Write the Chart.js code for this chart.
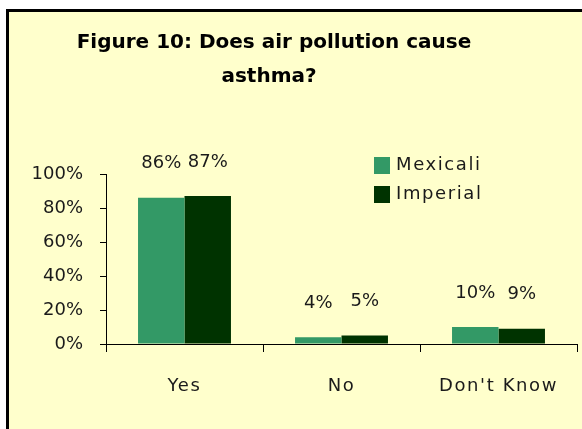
<!DOCTYPE html>
<html>
<head>
<meta charset="utf-8">
<script src="https://cdn.jsdelivr.net/npm/chart.js@4/dist/chart.umd.min.js"></script>
<style>
  html, body { margin: 0; padding: 0; background: #ffffff; }
  #wrap { width: 582px; height: 429px; }
</style>
</head>
<body>
<div id="wrap"><canvas id="chart" width="582" height="429"></canvas></div>
<script>
// Survey answers by region (share of respondents)
const categories = ["Yes", "No", "Don't Know"];
const mexicali = [0.86, 0.04, 0.10];
const imperial = [0.87, 0.05, 0.09];
const seriesNames = ["Mexicali", "Imperial"];
const seriesColors = ["#339966", "#003300"];
const titleLines = ["Figure 10: Does air pollution cause", "asthma?"];

const FONT = "'DejaVu Sans', sans-serif";
const SIZE = 18;
const TEXT = "#1a1a1a";
const PANEL = "#FFFFCC";
const WORD_SPACING = "1.6px";   // airy tracking for word labels
const NUM_SPACING = "0px";      // numbers keep normal tracking

const pct = v => Math.round(v * 100) + "%";

// Framed panel background with heavy left/top rule
const panelPlugin = {
  id: 'panel',
  beforeDraw(chart) {
    const ctx = chart.ctx;
    ctx.save();
    ctx.fillStyle = "#ffffff";
    ctx.fillRect(0, 0, chart.width, chart.height);
    ctx.fillStyle = "#000000";
    ctx.fillRect(6, 9, chart.width - 6, chart.height - 9);
    ctx.fillStyle = PANEL;
    ctx.fillRect(9, 12, chart.width - 9, chart.height - 12);
    ctx.restore();
    // y-axis numbers are drawn with this tracking
    ctx.letterSpacing = NUM_SPACING;
  },
  afterDraw(chart) {
    chart.ctx.letterSpacing = "0px";
  }
};

// Value labels floating above each bar; afterwards switch tracking for the category axis
const valuePlugin = {
  id: 'values',
  afterDatasetsDraw(chart) {
    const ctx = chart.ctx;
    ctx.save();
    ctx.letterSpacing = NUM_SPACING;
    ctx.font = SIZE + "px " + FONT;
    ctx.fillStyle = TEXT;
    ctx.textAlign = "center";
    ctx.textBaseline = "middle";
    chart.data.datasets.forEach((ds, i) => {
      chart.getDatasetMeta(i).data.forEach((bar, j) => {
        ctx.fillText(pct(ds.data[j]), bar.x, bar.y - 34);
      });
    });
    ctx.restore();
    ctx.letterSpacing = WORD_SPACING;
  }
};

// Legend drawn inside the upper right of the plot
const keyPlugin = {
  id: 'key',
  afterDraw(chart) {
    const ctx = chart.ctx;
    ctx.save();
    ctx.letterSpacing = WORD_SPACING;
    ctx.font = SIZE + "px " + FONT;
    ctx.textBaseline = "middle";
    ctx.textAlign = "left";
    chart.data.datasets.forEach((ds, i) => {
      const y = 157 + i * 29;
      ctx.fillStyle = ds.backgroundColor;
      ctx.fillRect(374, y, 16, 17);
      ctx.fillStyle = TEXT;
      ctx.fillText(ds.label, 396, y + 8);
    });
    ctx.restore();
  }
};

// Two-line bold heading
const headingPlugin = {
  id: 'heading',
  afterDraw(chart) {
    const ctx = chart.ctx;
    ctx.save();
    ctx.letterSpacing = "0px";
    ctx.fillStyle = "#000000";
    ctx.font = "bold 20px " + FONT;
    ctx.textAlign = "center";
    ctx.textBaseline = "middle";
    ctx.fillText(titleLines[0], 274, 43);
    ctx.fillText(titleLines[1], 269, 77);
    ctx.restore();
  }
};

new Chart(document.getElementById('chart'), {
  type: 'bar',
  data: {
    labels: categories,
    datasets: [
      { label: seriesNames[0], data: mexicali, backgroundColor: seriesColors[0] },
      { label: seriesNames[1], data: imperial, backgroundColor: seriesColors[1] }
    ]
  },
  options: {
    responsive: false,
    animation: false,
    devicePixelRatio: 1,
    layout: { padding: { top: 174, right: 5, left: 0, bottom: 0 } },
    datasets: { bar: { categoryPercentage: 0.592, barPercentage: 1.0, borderWidth: 0 } },
    plugins: {
      legend: { display: false },
      title: { display: false },
      tooltip: { enabled: false }
    },
    scales: {
      x: {
        offset: true,
        grid: { display: true, drawOnChartArea: false, drawTicks: true, tickLength: 8, offset: true, color: "#000000", lineWidth: 1 },
        border: { display: true, color: "#000000", width: 1 },
        ticks: { z: 1, color: TEXT, font: { family: FONT, size: SIZE }, padding: 24, maxRotation: 0 },
        afterFit(scale) { scale.height = 85; }
      },
      y: {
        min: 0,
        max: 1,
        grid: { display: true, drawOnChartArea: false, drawTicks: true, tickLength: 6, color: "#000000", lineWidth: 1 },
        border: { display: true, color: "#000000", width: 1 },
        ticks: { stepSize: 0.2, color: TEXT, font: { family: FONT, size: SIZE }, padding: 17, callback: v => pct(v) },
        afterFit(scale) { scale.width = 106; }
      }
    }
  },
  plugins: [panelPlugin, valuePlugin, keyPlugin, headingPlugin]
});
</script>
</body>
</html>
